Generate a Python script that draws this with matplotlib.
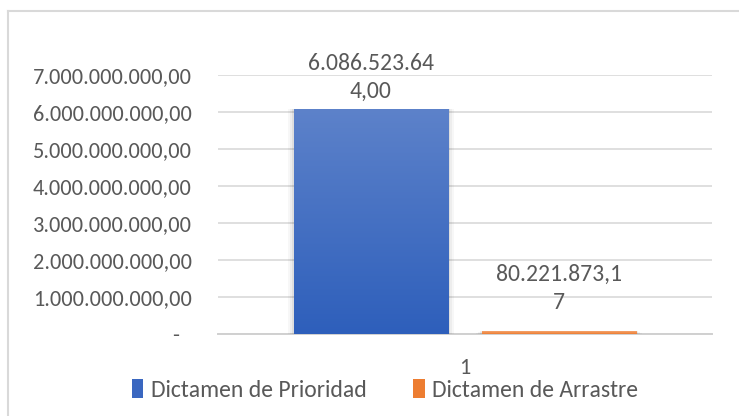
import matplotlib
matplotlib.use("Agg")
import matplotlib.pyplot as plt
import numpy as np
from matplotlib import font_manager
from matplotlib.colors import LinearSegmentedColormap
from matplotlib.patches import Patch
import matplotlib.transforms as mtransforms
from matplotlib.lines import Line2D

# ---- data ----
series_names = ["Dictamen de Prioridad", "Dictamen de Arrastre"]
series_values = [6086523644.00, 80221873.17]
category = "1"
y_ticks = [0, 1e9, 2e9, 3e9, 4e9, 5e9, 6e9, 7e9]

# ---- fonts ----
avail = {f.name for f in font_manager.fontManager.ttflist}
for cand in ["Carlito", "Liberation Sans Narrow", "Lato", "Open Sans", "DejaVu Sans"]:
    if cand in avail:
        FONT = cand
        break
plt.rcParams["font.family"] = [FONT, "DejaVu Sans"]
TXT = "#595959"
FS_TICK = 16
FS_LAB = 17
FS_LEG = 17


def euro(v):
    s = f"{v:,.2f}"
    return s.replace(",", "X").replace(".", ",").replace("X", ".")


def wrap(s, n=12):
    return "\n".join(s[i:i + n] for i in range(0, len(s), n))


W, H = 739, 416
fig = plt.figure(figsize=(W / 100, H / 100), dpi=100)
ax = fig.add_axes([218 / W, 1 - 334 / H, (712 - 218) / W, (334 - 75) / H])

offsets = [-0.191, 0.19]
width = 0.312
grads = [("#5D82CA", "#2E5FBB"), ("#F4A36E", "#ED7D31")]
solid = ["#4472C4", "#ED7D31"]

ax.set_xlim(-0.5, 0.5)
ax.set_ylim(0, 7e9)

for i, (name, val) in enumerate(zip(series_names, series_values)):
    x = offsets[i]
    bars = ax.bar(x, val, width=width, color=solid[i], zorder=3, label=name,
                  linewidth=0)
    rect = bars[0]
    # soft shadow
    for k, a in enumerate([0.06, 0.04, 0.03]):
        d = (k + 1) * 0.004
        sh = plt.Rectangle((x - width / 2 - d, -k * 0.02e9), width + 2 * d,
                           val + d * 2e9 if val > 1e9 else val, color="black",
                           alpha=a, zorder=2, linewidth=0)
        ax.add_patch(sh)
    cmap = LinearSegmentedColormap.from_list("g", [grads[i][1], grads[i][0]])
    grad = np.linspace(0, 1, 256).reshape(-1, 1)
    im = ax.imshow(grad, aspect="auto", cmap=cmap, origin="lower",
                   extent=[x - width / 2, x + width / 2, 0, val], zorder=4)
    im.set_clip_path(rect)
    # data label
    lab = wrap(euro(val))
    dy = 0.2e9 if i == 0 else 0.5e9
    ax.text(x, val + dy, lab, ha="center", va="bottom", fontsize=FS_LAB,
            color=TXT, linespacing=1.4, clip_on=False, zorder=6)

ax.set_xlim(-0.5, 0.5)
ax.set_ylim(0, 7e9)

ax.set_yticks(y_ticks)
ax.set_yticklabels(["-"] + [euro(v) for v in y_ticks[1:]], fontsize=FS_TICK, color=TXT)
ax.tick_params(axis="y", length=0, pad=19)
ax.set_xticks([0])
ax.set_xticklabels([category], fontsize=FS_TICK, color=TXT)
ax.tick_params(axis="x", length=0, pad=17)

zero_lab = ax.get_yticklabels()[0]
zero_lab.set_transform(zero_lab.get_transform() +
                       mtransforms.ScaledTranslation(-13 / 100, 0, fig.dpi_scale_trans))

ax.grid(axis="y", color="#D9D9D9", linewidth=1.2, zorder=0)
ax.set_axisbelow(True)
for s in ["top", "right", "left"]:
    ax.spines[s].set_visible(False)
ax.spines["bottom"].set_color("#D0D0D0")
ax.spines["bottom"].set_linewidth(1.4)
ax.spines["bottom"].set_zorder(1)

handles = [Patch(facecolor="#3A67C0", edgecolor="none"),
           Patch(facecolor="#ED7D31", edgecolor="none")]
leg = fig.legend(handles, series_names, loc="center",
                 bbox_to_anchor=(385 / W, 1 - 390 / H), ncol=2, frameon=False,
                 fontsize=FS_LEG, handlelength=0.5, handleheight=0.85,
                 handletextpad=0.3, columnspacing=2.0)
for t in leg.get_texts():
    t.set_color(TXT)

# chart border (top and left visible)
fig.add_artist(Line2D([8 / W, 1.0], [1 - 11 / H, 1 - 11 / H], color="#D9D9D9",
                      linewidth=1.5, transform=fig.transFigure))
fig.add_artist(Line2D([8 / W, 8 / W], [0, 1 - 11 / H], color="#D9D9D9",
                      linewidth=1.5, transform=fig.transFigure))

fig.savefig("out.png", dpi=100, facecolor="white")
